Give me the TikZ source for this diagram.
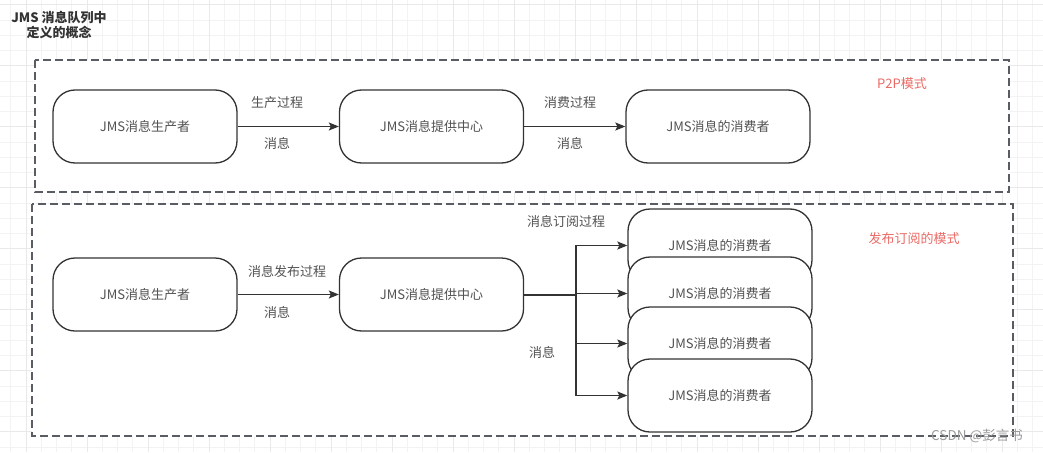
\documentclass[tikz,border=0pt]{standalone}
\usepackage{fontspec}
\setmainfont{Noto Sans CJK SC}
\usetikzlibrary{arrows.meta}
\definecolor{ink}{HTML}{333333}
\definecolor{boxline}{HTML}{595D63}
\definecolor{redtxt}{HTML}{EA6B66}
\definecolor{gridminor}{HTML}{F3F3F3}
\definecolor{gridmajor}{HTML}{E9E9E9}
\definecolor{wm}{HTML}{9A9A9A}
\tikzset{
  proc/.style={draw=ink, line width=1.3pt, rounded corners=22pt, fill=white,
    minimum width=184pt, minimum height=73pt, inner sep=0pt,
    font=\fontsize{13}{15}\selectfont, text=ink!85},
  lbl/.style={font=\fontsize{13}{15}\selectfont, text=ink!85, inner sep=0pt},
  redlbl/.style={font=\fontsize{13}{15}\selectfont, text=redtxt, inner sep=0pt},
  frame/.style={draw=boxline, line width=1.5pt, dash pattern=on 8pt off 4pt, fill=white},
  arr/.style={draw=ink, line width=1.4pt, -{Stealth[length=10pt, width=8pt, inset=2pt]}},
  gmin/.style={draw=gridminor, line width=0.8pt},
  gmaj/.style={draw=gridmajor, line width=1pt}
}
\begin{document}
\begin{tikzpicture}[x=1pt, y=-1pt]
\useasboundingbox (0,0) rectangle (1043,452);
\fill[white] (0,0) rectangle (1043,452);
% grid
\foreach \k in {-1,...,67} { \draw[gmin] ({26+15.25*\k},0) -- ({26+15.25*\k},452); }
\foreach \k in {0,...,29} { \draw[gmin] (0,{4.75+15.25*\k}) -- (1043,{4.75+15.25*\k}); }
\foreach \k in {0,...,16} { \draw[gmaj] ({26+61*\k},0) -- ({26+61*\k},452); }
\foreach \k in {0,...,7} { \draw[gmaj] (0,{4.75+61*\k}) -- (1043,{4.75+61*\k}); }

% title
\node[font=\fontsize{13}{15.5}\selectfont\bfseries, text=ink, align=center, inner sep=0pt] (title) at (59,25) {JMS 消息队列中\\定义的概念};

% frames
\draw[frame] (35,60) rectangle (1009,192);
\draw[frame] (32,204) rectangle (1013,436);

% P2P row
\node[proc] (p1) at (145,126.5) {JMS消息生产者};
\node[proc] (c1) at (431.5,126.5) {JMS消息提供中心};
\node[proc] (k1) at (718,126.5) {JMS消息的消费者};
\draw[arr] (p1) -- (c1);
\draw[arr] (c1) -- (k1);
\node[lbl] (l1a) at (277,103) {生产过程};
\node[lbl] (l1b) at (277,143) {消息};
\node[lbl] (l2a) at (570,103) {消费过程};
\node[lbl] (l2b) at (570,143) {消息};
\node[redlbl] (r1) at (902,84) {P2P模式};

% pub/sub row
\node[proc] (p2) at (145,294.5) {JMS消息生产者};
\node[proc] (c2) at (431.5,294.5) {JMS消息提供中心};
\node[proc] (kA) at (720,245.5) {JMS消息的消费者};
\node[proc] (kB) at (720,293.5) {JMS消息的消费者};
\node[proc] (kC) at (720,343.5) {JMS消息的消费者};
\node[proc] (kD) at (720,395.5) {JMS消息的消费者};
\draw[arr] (p2) -- (c2);
\coordinate (fork) at (576,294.5);
\draw[draw=ink, line width=2pt] (c2.east) -- (fork);
\draw[arr] (fork) |- (kA.west);
\draw[arr] (fork) |- (kB.west);
\draw[arr] (fork) |- (kC.west);
\draw[arr] (fork) |- (kD.west);
\node[lbl] (l3a) at (287,272) {消息发布过程};
\node[lbl] (l3b) at (277,312) {消息};
\node[lbl] (l4a) at (566,221) {消息订阅过程};
\node[lbl] (l4b) at (542,352) {消息};
\node[redlbl] (r2) at (914,239) {发布订阅的模式};

% watermark
\node[font=\fontsize{13.5}{15}\selectfont, text=wm, inner sep=0pt] (wm) at (977,436) {CSDN @彭言书};
\end{tikzpicture}
\end{document}
